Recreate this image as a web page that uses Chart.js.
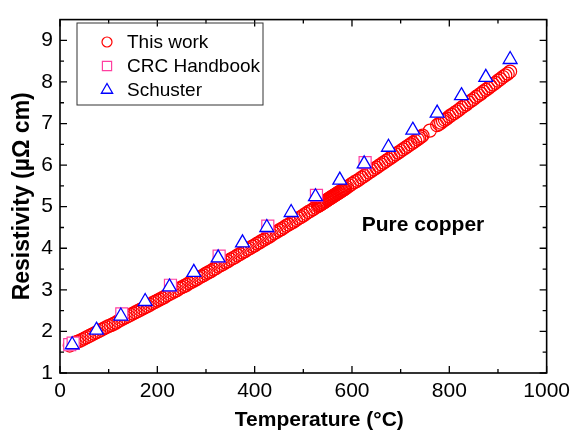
<!DOCTYPE html>
<html>
<head>
<meta charset="utf-8">
<title>Resistivity of pure copper</title>
<script src="https://cdn.jsdelivr.net/npm/chart.js@4.4.1/dist/chart.umd.min.js"></script>
<style>
  html, body { margin: 0; padding: 0; background: #fff; }
</style>
</head>
<body>
<canvas id="myChart" width="576" height="434"></canvas>
<script>
// Datos de "This work" (temperatura en °C, resistividad en µΩ cm)
const workTemp = [
  20, 25, 30, 35, 40, 45, 50, 55, 60, 65, 70, 75, 80, 85, 90, 95,
  100, 105, 110, 115, 120, 125, 130, 135, 140, 145, 150, 155, 160, 165, 170, 175, 180, 185, 190, 195,
  200, 205, 210, 215, 220, 225, 230, 235, 240, 245, 250, 255, 260, 265, 270, 275, 280, 285, 290, 295,
  300, 305, 310, 315, 320, 325, 330, 335, 340, 345, 350, 355, 360, 365, 370, 375, 380, 385, 390, 395,
  400, 405, 410, 415, 420, 425, 430, 435, 440, 445, 450, 455, 460, 465, 470, 475, 480, 485, 490, 495,
  500, 505, 510, 515, 520, 525, 530,
  532, 534, 536, 538, 540, 542, 544, 546, 548, 550, 552, 554, 556, 558, 560, 562, 564, 566, 568, 570,
  572, 574, 576, 578, 580, 582, 584, 586,
  590, 595, 600, 605, 610, 615, 620, 625, 630, 635, 640, 645, 650, 655, 660, 665, 670, 675, 680, 685, 690, 695,
  700, 705, 710, 715, 720, 725, 730, 735, 738, 742, 745, 760, 775, 779, 783, 787, 791, 795,
  800, 805, 810, 815, 820, 825, 830, 835, 840, 845, 850, 855, 860, 865, 870, 875, 880, 885, 890, 895,
  900, 905, 910, 915, 920, 925
];
const workRho = [
  1.66, 1.69, 1.72, 1.75, 1.77, 1.80, 1.83, 1.86, 1.89, 1.92, 1.95, 1.98, 2.01, 2.04, 2.07, 2.10,
  2.13, 2.15, 2.18, 2.21, 2.25, 2.28, 2.31, 2.34, 2.37, 2.40, 2.43, 2.46, 2.49, 2.52, 2.55, 2.58, 2.61, 2.64, 2.68, 2.71,
  2.74, 2.77, 2.80, 2.83, 2.87, 2.90, 2.93, 2.96, 2.99, 3.03, 3.06, 3.09, 3.12, 3.16, 3.19, 3.22, 3.25, 3.29, 3.32, 3.35,
  3.39, 3.42, 3.45, 3.49, 3.52, 3.56, 3.59, 3.62, 3.66, 3.69, 3.73, 3.76, 3.79, 3.83, 3.86, 3.90, 3.93, 3.97, 4.00, 4.04,
  4.07, 4.11, 4.14, 4.18, 4.21, 4.25, 4.28, 4.32, 4.36, 4.39, 4.43, 4.46, 4.50, 4.54, 4.57, 4.61, 4.64, 4.68, 4.72, 4.75,
  4.79, 4.83, 4.87, 4.90, 4.94, 4.98, 5.01,
  5.03, 5.04, 5.06, 5.07, 5.09, 5.10, 5.12, 5.13, 5.15, 5.17, 5.18, 5.20, 5.21, 5.23, 5.24, 5.26, 5.27, 5.29, 5.30, 5.32,
  5.33, 5.35, 5.36, 5.38, 5.39, 5.41, 5.42, 5.44,
  5.47, 5.51, 5.55, 5.59, 5.62, 5.66, 5.70, 5.74, 5.78, 5.82, 5.86, 5.90, 5.94, 5.98, 6.02, 6.06, 6.10, 6.14, 6.18, 6.22, 6.26, 6.30,
  6.34, 6.38, 6.42, 6.46, 6.50, 6.54, 6.58, 6.62, 6.65, 6.68, 6.71, 6.83, 6.96, 6.99, 7.02, 7.06, 7.09, 7.12,
  7.17, 7.21, 7.25, 7.29, 7.33, 7.38, 7.42, 7.46, 7.51, 7.55, 7.59, 7.64, 7.68, 7.72, 7.77, 7.81, 7.85, 7.90, 7.94, 7.98,
  8.03, 8.07, 8.12, 8.16, 8.20, 8.25
];

// CRC Handbook
const crcTemp = [20, 27, 127, 227, 327, 427, 527, 627];
const crcRho = [1.68, 1.72, 2.42, 3.11, 3.81, 4.53, 5.27, 6.06];

// Schuster
const schTemp = [25, 75, 125, 175, 225, 275, 325, 375, 425, 475, 525, 575, 625, 675, 725, 775, 825, 875, 925];
const schRho = [1.68, 2.03, 2.37, 2.72, 3.07, 3.42, 3.77, 4.13, 4.50, 4.86, 5.24, 5.64, 6.03, 6.43, 6.84, 7.25, 7.67, 8.11, 8.54];

// Marcas de los ejes
const xTicks = [0, 200, 400, 600, 800, 1000];
const xMinor = [100, 300, 500, 700, 900];
const yTicks = [1, 2, 3, 4, 5, 6, 7, 8, 9];
const yMinor = [1.5, 2.5, 3.5, 4.5, 5.5, 6.5, 7.5, 8.5];

const FONT = "'Liberation Sans', Arial, sans-serif";
Chart.defaults.font.family = FONT;
Chart.defaults.color = '#000';

function toPoints(xs, ys) {
  return xs.map((t, i) => ({ x: t, y: ys[i] }));
}

// Marco, marcas hacia dentro, leyenda y textos
const framePlugin = {
  id: 'frame',
  afterDraw(chart, args, opts) {
    const { ctx, chartArea: a, scales: { x, y } } = chart;
    ctx.save();

    // marcas en los cuatro lados
    ctx.strokeStyle = '#000';
    ctx.lineWidth = 1.3;
    ctx.beginPath();
    const xMarks = (vals, len) => vals.forEach(v => {
      const px = x.getPixelForValue(v);
      ctx.moveTo(px, a.bottom); ctx.lineTo(px, a.bottom - len);
      ctx.moveTo(px, a.top); ctx.lineTo(px, a.top + len);
    });
    const yMarks = (vals, len) => vals.forEach(v => {
      const py = y.getPixelForValue(v);
      ctx.moveTo(a.left, py); ctx.lineTo(a.left + len, py);
      ctx.moveTo(a.right, py); ctx.lineTo(a.right - len, py);
    });
    xMarks(xTicks, 7); xMarks(xMinor, 4);
    yMarks(yTicks, 7); yMarks(yMinor, 4);
    ctx.stroke();

    ctx.lineWidth = 1.6;
    ctx.strokeRect(a.left, a.top, a.right - a.left, a.bottom - a.top);

    // titulo del eje x
    ctx.fillStyle = '#000';
    ctx.font = 'bold 21px ' + FONT;
    ctx.textAlign = 'center';
    ctx.textBaseline = 'alphabetic';
    ctx.fillText('Temperature (°C)', (a.left + a.right) / 2 + opts.titleShift, opts.titleBaseline);

    // nota dentro del grafico
    ctx.font = 'bold 21px ' + FONT;
    ctx.textAlign = 'left';
    ctx.fillText(opts.note, x.getPixelForValue(opts.noteX), y.getPixelForValue(opts.noteY));

    // leyenda
    const lg = opts.legend;
    ctx.lineWidth = 1;
    ctx.strokeStyle = '#333';
    ctx.strokeRect(lg.left, lg.top, lg.width, lg.height);
    ctx.font = '19px ' + FONT;
    chart.data.datasets.forEach((ds, i) => {
      const cy = lg.top + lg.first + i * lg.step;
      ctx.fillStyle = '#fff';
      ctx.strokeStyle = ds.borderColor;
      ctx.lineWidth = ds.pointBorderWidth;
      Chart.helpers.drawPoint(ctx, {
        pointStyle: ds.pointStyle, radius: lg.radius[i], rotation: 0, borderWidth: ds.pointBorderWidth
      }, lg.markerX, cy);
      ctx.fillStyle = '#000';
      ctx.textBaseline = 'middle';
      ctx.fillText(ds.label, lg.textX, cy + 1);
    });
    ctx.restore();
  }
};

const ctx = document.getElementById('myChart').getContext('2d');
const myChart = new Chart(ctx, {
  type: 'scatter',
  data: {
    datasets: [{
      label: 'This work',
      data: toPoints(workTemp, workRho),
      pointStyle: 'circle',
      pointRadius: 6.5,
      pointBorderWidth: 1.2,
      borderColor: '#ff0000',
      backgroundColor: 'rgba(255, 255, 255, 0)',
      order: 3
    }, {
      label: 'CRC Handbook',
      data: toPoints(crcTemp, crcRho),
      pointStyle: 'rect',
      pointRadius: 8.5,
      pointBorderWidth: 1.2,
      borderColor: '#ff3fa0',
      backgroundColor: '#ffffff',
      order: 2
    }, {
      label: 'Schuster',
      data: toPoints(schTemp, schRho),
      pointStyle: 'triangle',
      pointRadius: 8,
      pointBorderWidth: 1.3,
      borderColor: '#0000ff',
      backgroundColor: '#ffffff',
      order: 1
    }]
  },
  options: {
    responsive: false,
    animation: false,
    events: [],
    layout: { padding: { top: 10, right: 26, left: 0, bottom: 0 } },
    scales: {
      x: {
        type: 'linear',
        min: 0,
        max: 1000,
        grid: { display: false, drawTicks: false },
        border: { display: false },
        afterBuildTicks: s => { s.ticks = xTicks.map(v => ({ value: v })); },
        afterFit: s => { s.height = 61; },
        ticks: { font: { size: 21 }, color: '#000', padding: 6, maxRotation: 0, callback: v => String(v) }
      },
      y: {
        type: 'linear',
        min: 1,
        max: 9.5,
        grid: { display: false, drawTicks: false },
        border: { display: false },
        afterBuildTicks: s => { s.ticks = yTicks.map(v => ({ value: v })); },
        afterFit: s => { s.width = 60; },
        ticks: { font: { size: 21 }, color: '#000', padding: 7, callback: v => String(v) },
        title: {
          display: true,
          text: 'Resistivity (µΩ cm)',
          font: { size: 23, weight: 'bold' },
          color: '#000',
          padding: { top: 9, bottom: 0 }
        }
      }
    },
    plugins: {
      legend: { display: false },
      tooltip: { enabled: false },
      frame: {
        titleShift: 16,
        titleBaseline: 426,
        note: 'Pure copper',
        noteX: 620,
        noteY: 4.42,
        legend: {
          left: 77, top: 23, width: 186, height: 82,
          first: 19, step: 24, markerX: 107, textX: 127,
          radius: [5, 6.5, 6.5]
        }
      }
    }
  },
  plugins: [framePlugin]
});
</script>
</body>
</html>
